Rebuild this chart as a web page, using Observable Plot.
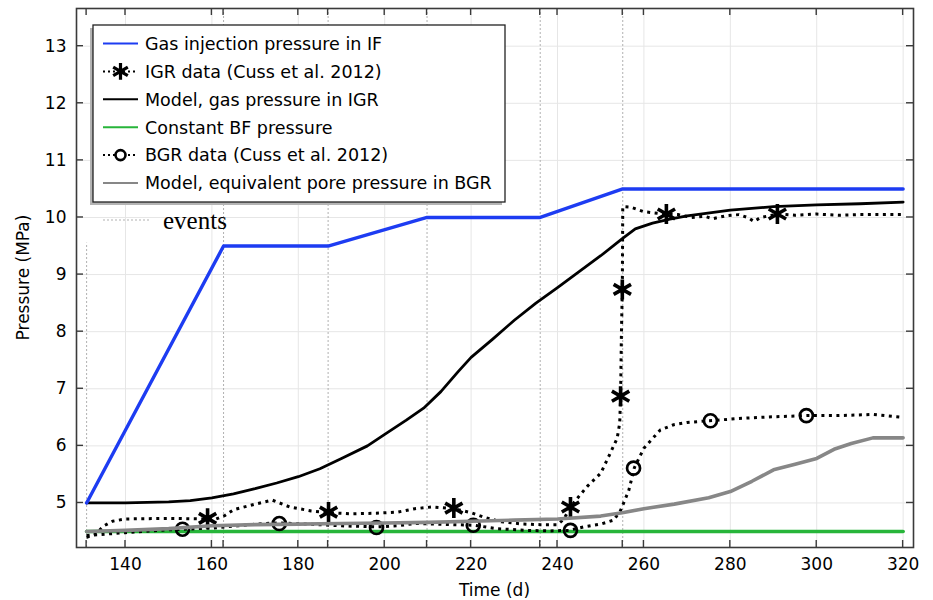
<!DOCTYPE html>
<html><head><meta charset="utf-8">
<script src="https://cdn.jsdelivr.net/npm/d3@7"></script>
<script src="https://cdn.jsdelivr.net/npm/@observablehq/plot@0.6"></script>
<style>body{margin:0;background:#fff}#chart{width:933px;height:600px}</style>
</head><body><div id="chart"></div>
<script>
// ---------- data ----------
const xTicks = [140, 160, 180, 200, 220, 240, 260, 280, 300, 320];
const yTicks = [5, 6, 7, 8, 9, 10, 11, 12, 13];
const eventDays = [131, 162.7, 186.9, 209.8, 236, 255.1];

const blueDays = [131, 162.7, 186.9, 209.8, 236, 255.1, 320];
const blueP    = [5, 9.5, 9.5, 10, 10, 10.5, 10.5];

const greenDays = [131, 320];
const greenP    = [4.5, 4.5];

const modelDays = [131,140,150,155,160,165,170,175,180,185,190,196,200,205,209,213,217,220,225,230,235,240,245,250,255,258,262,266,270,280,290,300,310,320];
const modelP    = [5.0,5.0,5.02,5.04,5.09,5.16,5.25,5.35,5.46,5.6,5.78,6.0,6.2,6.45,6.66,6.95,7.3,7.55,7.87,8.2,8.5,8.77,9.05,9.33,9.63,9.8,9.9,9.97,10.03,10.13,10.19,10.22,10.24,10.27];

const grayDays = [131,140,150,160,170,180,190,200,210,220,230,240,250,255,260,267,275,280,285,290,295,300,304,308,313,320];
const grayP    = [4.5,4.52,4.55,4.6,4.62,4.63,4.64,4.65,4.66,4.68,4.7,4.72,4.77,4.83,4.9,4.98,5.09,5.2,5.38,5.58,5.68,5.78,5.94,6.04,6.14,6.14];

const igrDays = [131,133,135,137,140,150,158,161,163,165,170,174,178,183,187,192,198,203,207,211,216,220,223,227,232,236,240,241.5,243,245,247,250,252.2,253.8,254.4,254.6,254.8,255,255.1,257,260,265,268,271,274,276,279,282,284,285.5,287,291,295,300,305,310,315,320];
const igrP    = [4.40,4.45,4.6,4.68,4.72,4.73,4.72,4.72,4.78,4.88,4.98,5.05,4.93,4.86,4.83,4.81,4.82,4.84,4.9,4.93,4.9,4.83,4.75,4.67,4.63,4.62,4.62,4.72,4.93,5.12,5.3,5.52,5.87,6.13,6.4,6.87,8.0,8.74,10.19,10.18,10.1,10.06,10.05,10.0,10.02,9.98,10.03,10.05,10.0,9.93,10.0,10.06,10.04,10.06,10.04,10.05,10.05,10.05];
const igrMarkDays = [159, 187, 216, 243, 254.6, 255, 265.2, 290.9];
const igrMarkP    = [4.73, 4.84, 4.91, 4.93, 6.87, 8.74, 10.06, 10.06];

const bgrDays = [131,140,150,153.5,160,166,172,175.6,182,190,198.2,203,207,212,216,220.6,226,233,238,242.6,246,250,253,254.6,256.5,257.8,260,263.8,266.9,270,275.2,282,290,297.7,305,313,320];
const bgrP    = [4.43,4.48,4.53,4.54,4.56,4.6,4.64,4.65,4.63,4.6,4.58,4.6,4.64,4.63,4.62,4.61,4.55,4.52,4.51,4.52,4.58,4.63,4.70,4.87,5.22,5.62,5.96,6.28,6.37,6.41,6.44,6.48,6.51,6.53,6.53,6.55,6.5];
const bgrMarkDays = [153.2, 175.6, 198.1, 220.5, 243, 257.6, 275.4, 297.6];
const bgrMarkP    = [4.54, 4.64, 4.57, 4.61, 4.52, 5.61, 6.44, 6.53];

const legendLabels = [
  "Gas injection pressure in IF",
  "IGR data (Cuss et al. 2012)",
  "Model, gas pressure in IGR",
  "Constant BF pressure",
  "BGR data (Cuss et al. 2012)",
  "Model, equivalent pore pressure in BGR"
];
const eventsLabel = "events";
const xLabel = "Time (d)";
const yLabel = "Pressure (MPa)";

// ---------- tables ----------
const zip = (xs, ys) => xs.map((d, i) => ({t: d, p: ys[i]}));
const blue = zip(blueDays, blueP), green = zip(greenDays, greenP);
const model = zip(modelDays, modelP), gray = zip(grayDays, grayP);
const igr = zip(igrDays, igrP), igrM = zip(igrMarkDays, igrMarkP);
const bgr = zip(bgrDays, bgrP), bgrM = zip(bgrMarkDays, bgrMarkP);

const C = {blue: "#1d3cf2", green: "#27b53a", gray: "#878787", black: "#000", event: "#a8a8a8", grid: "#e6e6e6", frame: "#3a3a3a"};
const DOT = "3 4.5";

const plot = Plot.plot({
  width: 933, height: 600,
  marginLeft: 76, marginRight: 20, marginTop: 8, marginBottom: 53,
  style: {fontFamily: "DejaVu Sans", fontSize: "17px", color: "#000", background: "#fff", overflow: "visible"},
  x: {domain: [128.66, 322.4]},
  y: {domain: [4.22, 13.66]},
  marks: [
    Plot.gridX(xTicks, {stroke: C.grid, strokeOpacity: 1, strokeWidth: 1}),
    Plot.gridY(yTicks, {stroke: C.grid, strokeOpacity: 1, strokeWidth: 1}),
    Plot.ruleX(eventDays.slice(0, 1), {y1: 4.22, y2: 9.55, stroke: C.event, strokeWidth: 0.9, strokeDasharray: "2 2"}),
    Plot.ruleX(eventDays.slice(1), {stroke: C.event, strokeWidth: 0.9, strokeDasharray: "2 2"}),
    Plot.line(green, {x: "t", y: "p", stroke: C.green, strokeWidth: 3.6}),
    Plot.line(bgr, {x: "t", y: "p", stroke: C.black, strokeWidth: 3, strokeDasharray: DOT, strokeLinecap: "butt", strokeLinejoin: "miter"}),
    Plot.line(igr, {x: "t", y: "p", stroke: C.black, strokeWidth: 3, strokeDasharray: DOT, strokeLinecap: "butt", strokeLinejoin: "miter"}),
    Plot.dot(bgrM, {x: "t", y: "p", r: 6.5, stroke: C.black, strokeWidth: 2.7, fill: "none"}),
    Plot.dot(igrM, {x: "t", y: "p", r: 9.5, symbol: "asterisk", stroke: C.black, strokeWidth: 3.6}),
    Plot.line(model, {x: "t", y: "p", stroke: C.black, strokeWidth: 2.8}),
    Plot.line(blue, {x: "t", y: "p", stroke: C.blue, strokeWidth: 3.4}),
    Plot.line(gray, {x: "t", y: "p", stroke: C.gray, strokeWidth: 3.6}),
    Plot.axisX(xTicks, {anchor: "bottom", tickSize: 0, tickPadding: 10, label: null, fontSize: 17, tickFormat: d3.format("d")}),
    Plot.axisY(yTicks, {anchor: "left", tickSize: 0, tickPadding: 10, label: null, fontSize: 17, tickFormat: d3.format("d")}),
    Plot.frame({stroke: C.frame, strokeWidth: 1.6})
  ]
});
document.getElementById("chart").appendChild(plot);

// ---------- inward ticks, titles, legend ----------
const sx = plot.scale("x"), sy = plot.scale("y");
const svg = d3.select(plot);
const fTop = 8, fBottom = 547, fLeft = 76, fRight = 913, TL = 7;
const g = svg.append("g").attr("stroke", C.frame).attr("stroke-width", 1.4);
[...xTicks, ...eventDays].forEach(v => {
  const X = sx.apply(v);
  g.append("line").attr("x1", X).attr("x2", X).attr("y1", fBottom).attr("y2", fBottom - TL);
  g.append("line").attr("x1", X).attr("x2", X).attr("y1", fTop).attr("y2", fTop + TL);
});
yTicks.forEach(v => {
  const Y = sy.apply(v);
  g.append("line").attr("x1", fLeft).attr("x2", fLeft + TL).attr("y1", Y).attr("y2", Y);
  g.append("line").attr("x1", fRight).attr("x2", fRight - TL).attr("y1", Y).attr("y2", Y);
});

svg.append("text").attr("x", (fLeft + fRight) / 2).attr("y", 596).attr("text-anchor", "middle")
  .attr("font-family", "DejaVu Sans").attr("font-size", 17).attr("fill", "#000").text(xLabel);
svg.append("text").attr("transform", `translate(29,${(fTop + fBottom) / 2}) rotate(-90)`).attr("text-anchor", "middle")
  .attr("font-family", "DejaVu Sans").attr("font-size", 17).attr("fill", "#000").text(yLabel);

const L = {x: 93, y: 25, w: 412, h: 177};
const lg = svg.append("g").attr("text-anchor", "start");
lg.append("rect").attr("x", L.x - 3).attr("y", L.y + 3).attr("width", L.w).attr("height", L.h).attr("fill", "#b4b4b4");
lg.append("rect").attr("x", L.x).attr("y", L.y).attr("width", L.w).attr("height", L.h).attr("fill", "#fff").attr("stroke", "#222").attr("stroke-width", 1.3);
const styles = [
  {stroke: C.blue, w: 2},
  {stroke: C.black, w: 2, dash: "2 3", marker: "asterisk"},
  {stroke: C.black, w: 2},
  {stroke: C.green, w: 2},
  {stroke: C.black, w: 2, dash: "2 3", marker: "circle"},
  {stroke: C.gray, w: 2}
];
legendLabels.forEach((lab, i) => {
  const yy = 43.5 + i * 27.9;
  const s = styles[i];
  const ln = lg.append("line").attr("x1", 103).attr("x2", 138).attr("y1", yy).attr("y2", yy)
    .attr("stroke", s.stroke).attr("stroke-width", s.w);
  if (s.dash) ln.attr("stroke-dasharray", s.dash);
  if (s.marker === "asterisk") {
    lg.append("path").attr("d", d3.symbol(d3.symbolAsterisk, Math.PI * 8 * 8)()).attr("transform", `translate(120.5,${yy})`)
      .attr("stroke", "#000").attr("stroke-width", 3.2).attr("fill", "none");
  } else if (s.marker === "circle") {
    lg.append("circle").attr("cx", 120.5).attr("cy", yy).attr("r", 5).attr("stroke", "#000").attr("stroke-width", 2.6).attr("fill", "#fff");
  }
  lg.append("text").attr("x", 145).attr("y", yy).attr("dy", "0.36em").attr("text-anchor", "start").attr("font-family", "DejaVu Sans")
    .attr("font-size", 17.5).attr("fill", "#000").text(lab);
});
svg.append("line").attr("x1", 103).attr("x2", 150).attr("y1", 220).attr("y2", 220)
  .attr("stroke", C.event).attr("stroke-width", 0.9).attr("stroke-dasharray", "2 2");
svg.append("text").attr("x", 163).attr("y", 229).attr("text-anchor", "start").attr("font-family", "Liberation Serif")
  .attr("font-size", 25).attr("fill", "#000").text(eventsLabel);
</script></body></html>
